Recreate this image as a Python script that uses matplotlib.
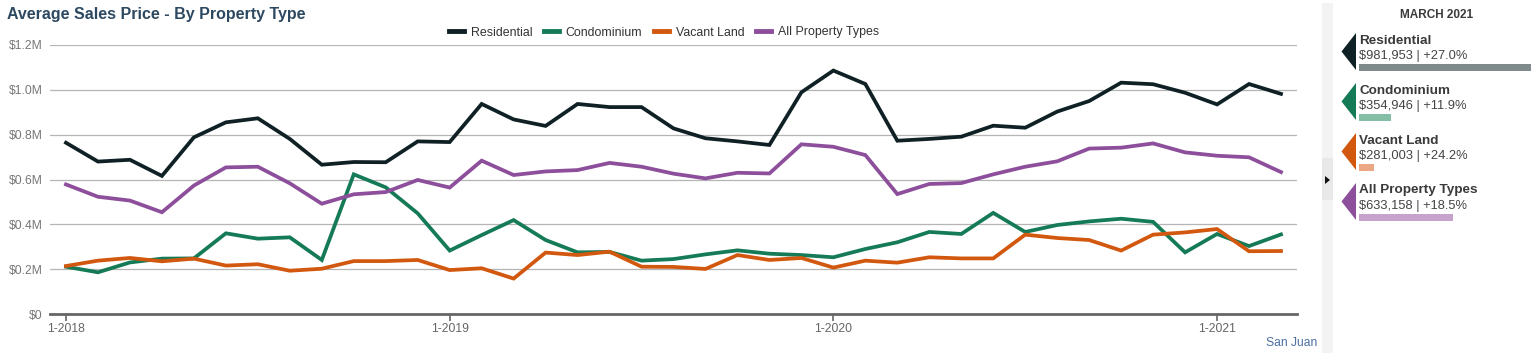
import matplotlib
matplotlib.use("Agg")
import matplotlib.pyplot as plt
from matplotlib.patches import Polygon, Rectangle
from matplotlib.ticker import FuncFormatter, FixedLocator

plt.rcParams['font.family'] = ['Liberation Sans', 'DejaVu Sans']

# ---------------- data ----------------
months = list(range(39))  # 1-2018 .. 3-2021
tick_months = [0, 12, 24, 36]
tick_labels = ["1-2018", "1-2019", "1-2020", "1-2021"]

residential = [0.764, 0.680, 0.688, 0.616, 0.788, 0.855, 0.873, 0.781, 0.666, 0.678,
               0.677, 0.770, 0.767, 0.937, 0.868, 0.839, 0.937, 0.923, 0.923, 0.828,
               0.784, 0.770, 0.754, 0.989, 1.086, 1.026, 0.773, 0.781, 0.791, 0.840,
               0.831, 0.903, 0.950, 1.032, 1.025, 0.987, 0.935, 1.026, 0.982]
condominium = [0.211, 0.186, 0.230, 0.247, 0.248, 0.360, 0.336, 0.342, 0.241, 0.623,
               0.565, 0.449, 0.283, 0.352, 0.419, 0.330, 0.275, 0.277, 0.238, 0.245,
               0.266, 0.284, 0.269, 0.263, 0.253, 0.290, 0.320, 0.366, 0.357, 0.451,
               0.366, 0.397, 0.413, 0.425, 0.411, 0.275, 0.357, 0.303, 0.355]
vacant_land = [0.214, 0.238, 0.250, 0.235, 0.247, 0.216, 0.222, 0.193, 0.202, 0.236,
               0.236, 0.241, 0.196, 0.204, 0.158, 0.274, 0.263, 0.278, 0.211, 0.210,
               0.201, 0.263, 0.241, 0.250, 0.207, 0.238, 0.229, 0.253, 0.248, 0.248,
               0.354, 0.339, 0.330, 0.283, 0.354, 0.364, 0.379, 0.280, 0.281]
all_types = [0.578, 0.523, 0.506, 0.454, 0.573, 0.654, 0.657, 0.583, 0.492, 0.534,
             0.544, 0.598, 0.564, 0.684, 0.620, 0.636, 0.642, 0.674, 0.657, 0.626,
             0.605, 0.630, 0.627, 0.757, 0.746, 0.709, 0.535, 0.580, 0.584, 0.623,
             0.657, 0.681, 0.738, 0.742, 0.761, 0.721, 0.706, 0.699, 0.633]

series_names = ["Residential", "Condominium", "Vacant Land", "All Property Types"]
series_values = [residential, condominium, vacant_land, all_types]
series_colors = ["#0f2125", "#157a56", "#d2580f", "#8d4f9b"]
bar_colors = ["#7f8a8a", "#84bea6", "#eca783", "#c6a2cd"]

panel_title = "MARCH 2021"
latest_values = [981953, 354946, 281003, 633158]
latest_changes = ["+27.0%", "+11.9%", "+24.2%", "+18.5%"]
bar_scale_min = 212700  # value at which side bar width is zero

# ---------------- figure ----------------
W, H = 1536, 353
fig = plt.figure(figsize=(W / 100, H / 100), dpi=100)

def px_rect(x0, y0, x1, y1):
    return [x0 / W, 1 - y1 / H, (x1 - x0) / W, (y1 - y0) / H]

ax = fig.add_axes(px_rect(50, 45, 1297, 314))
for name, vals, col in zip(series_names, series_values, series_colors):
    ax.plot(months, [v * 1e6 for v in vals], color=col, lw=2.7, label=name,
            solid_joinstyle='miter', zorder=3)

ax.set_xlim(-0.5, 38.5)
ax.set_ylim(0, 1.2e6)
ax.yaxis.set_major_locator(FixedLocator([0, 0.2e6, 0.4e6, 0.6e6, 0.8e6, 1.0e6, 1.2e6]))
ax.yaxis.set_major_formatter(FuncFormatter(lambda v, p: "$0" if v == 0 else f"${v/1e6:.1f}M"))
ax.set_xticks(tick_months)
ax.set_xticklabels(tick_labels)
ax.grid(axis='y', color='#b5b5b5', lw=0.9, zorder=0)
for s in ['top', 'right', 'left']:
    ax.spines[s].set_visible(False)
ax.spines['bottom'].set_color('#666666')
ax.spines['bottom'].set_linewidth(2.0)
ax.tick_params(axis='y', length=0, pad=5.5, labelsize=8.7, labelcolor='#777777')
ax.tick_params(axis='x', length=5, width=1.2, color='#666666', pad=1.5,
               labelsize=8.7, labelcolor='#666666')

fig.text(7 / W, 1 - 14 / H, "Average Sales Price - By Property Type", fontsize=11.5,
         fontweight='bold', color='#2d4962', ha='left', va='center')

leg = fig.legend(loc='center', bbox_to_anchor=(664 / W, 1 - 32.5 / H), ncol=4, frameon=False,
                 fontsize=8.9, handlelength=1.2, handletextpad=0.55, columnspacing=0.95,
                 labelcolor='#333333', borderpad=0.2)
for line in leg.get_lines():
    line.set_linewidth(3.5)

fig.text(1317 / W, 1 - 343 / H, "San Juan", fontsize=8.7, color='#4b6ea3',
         ha='right', va='center')

# ---------------- side panel ----------------
side = fig.add_axes([0, 0, 1, 1], zorder=-1)
side.set_xlim(0, W)
side.set_ylim(H, 0)
side.axis('off')
side.add_patch(Rectangle((1322, 3), 11, H - 3, color='#f3f3f3', lw=0))
side.add_patch(Rectangle((1322, 158), 11, 42, color='#e8e8e8', lw=0))
side.add_patch(Polygon([(1325, 176), (1325, 184), (1330, 180)], closed=True, color='#111111', lw=0))

side.text(1437, 15.5, panel_title, fontsize=8.5, fontweight='bold', color='#3a3a3a',
          ha='center', va='center')

top_y = [33, 83, 133, 183]
for i, (name, val, chg, col) in enumerate(zip(series_names, latest_values, latest_changes, series_colors)):
    y0 = top_y[i]
    side.add_patch(Polygon([(1341.5, y0 + 18.5), (1356, y0), (1356, y0 + 37)], closed=True,
                           color=col, lw=0))
    side.text(1359, y0 + 7.5, name, fontsize=9.7, fontweight='bold', color='#3a3a3a',
              ha='left', va='center')
    side.text(1359, y0 + 23, f"${val:,} | {chg}", fontsize=9.3, color='#444444',
              ha='left', va='center')

bax = fig.add_axes(px_rect(1359, 0, 1531, H))
bax.set_xlim(bar_scale_min, max(latest_values))
bax.set_ylim(H, 0)
bax.axis('off')
bax.barh([y + 34.5 for y in top_y], [v - bar_scale_min for v in latest_values],
         left=bar_scale_min, height=7, color=bar_colors, lw=0)

fig.savefig("out.png", dpi=100, facecolor='white')
